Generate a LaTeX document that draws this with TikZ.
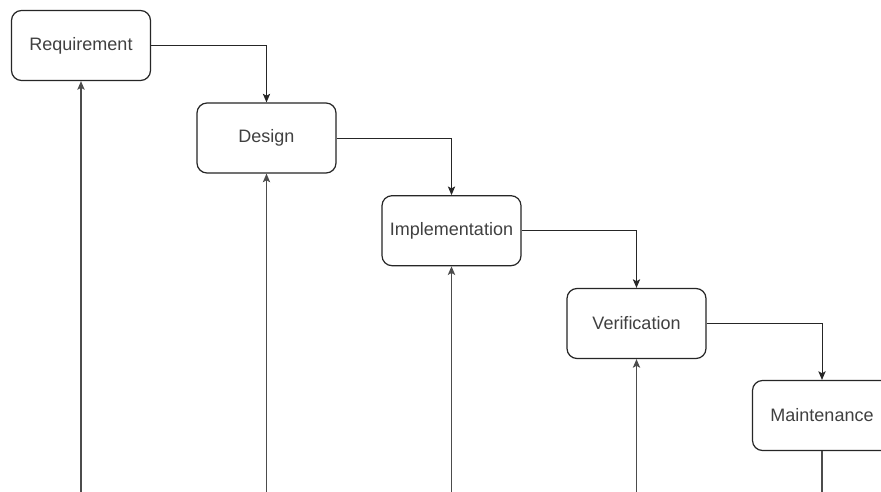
\documentclass[tikz,border=0pt]{standalone}
\usepackage{fontspec}
\setmainfont{Liberation Sans}
\usetikzlibrary{arrows.meta}
\begin{document}
\begin{tikzpicture}[x=0.75pt,y=-0.75pt,
  phase/.style={draw=black!85, line width=0.9pt, rounded corners=7.5pt,
    minimum width=104.25pt, minimum height=52.5pt, inner sep=0pt,
    font=\fontsize{13.5}{16}\selectfont, text=black!75, fill=white},
  flow/.style={draw=black!85, line width=0.75pt,
    -{Stealth[length=6.5pt,width=5.5pt,inset=1.5pt]}},
  feed/.style={draw=black!70, line width=0.9pt,
    -{Stealth[length=6.5pt,width=5.5pt,inset=1.5pt]}}]
  \clip (0,0) rectangle (881,492);
  \fill[white] (0,0) rectangle (881,492);

  % the five phases
  \node[phase] (req) at (81,45.5) {Requirement};
  \node[phase] (des) at (266.5,138) {Design};
  \node[phase] (imp) at (451.5,230.7) {Implementation};
  \node[phase] (ver) at (636.5,323.5) {Verification};
  \node[phase] (mnt) at (822,415.5) {Maintenance};

  % feet of the feedback lines, at the lower edge
  \coordinate (fr) at (81,492);
  \coordinate (fd) at (266.5,492);
  \coordinate (fi) at (451.5,492);
  \coordinate (fv) at (636.5,492);
  \coordinate (fm) at (822,492);

  % phase-to-phase flow
  \draw[flow] (req.east) -| (des.north);
  \draw[flow] (des.east) -| (imp.north);
  \draw[flow] (imp.east) -| (ver.north);
  \draw[flow] (ver.east) -| (mnt.north);

  % feedback lines coming up from below
  \draw[feed] (fr) -- (req.south);
  \draw[feed] (fd) -- (des.south);
  \draw[feed] (fi) -- (imp.south);
  \draw[feed] (fv) -- (ver.south);
  \draw[draw=black!70, line width=0.9pt] (mnt.south) -- (fm);
\end{tikzpicture}
\end{document}
